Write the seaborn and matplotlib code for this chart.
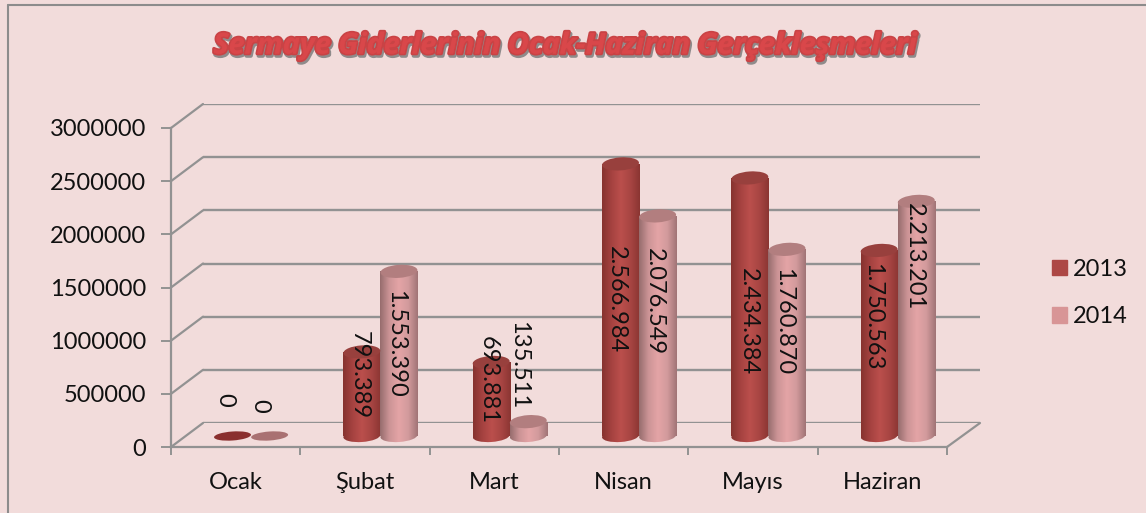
import numpy as np
import pandas as pd
import seaborn as sns
import matplotlib
matplotlib.use("Agg")
import matplotlib.pyplot as plt
import matplotlib.patheffects as pe
from matplotlib.colors import LinearSegmentedColormap
from matplotlib.lines import Line2D
from matplotlib.patches import ConnectionPatch, Ellipse, Patch
from matplotlib.transforms import IdentityTransform, offset_copy

months = ["Ocak", "Şubat", "Mart", "Nisan", "Mayıs", "Haziran"]
values_2013 = [0, 793389, 693881, 2566984, 2434384, 1750563]
values_2014 = [0, 1553390, 135511, 2076549, 1760870, 2213201]
labels_2013 = ["0", "793.389", "693.881", "2.566.984", "2.434.384", "1.750.563"]
labels_2014 = ["0", "1.553.390", "135.511", "2.076.549", "1.760.870", "2.213.201"]
years = ["2013", "2014"]
title = "Sermaye Giderlerinin Ocak-Haziran Gerçekleşmeleri"
yticks = [0, 500000, 1000000, 1500000, 2000000, 2500000, 3000000]

W, H = 1146, 513
BG = "#F2DCDB"
GRID = "#929292"
TXT = "#111111"
FS = 17
plt_font = ["Lato", "DejaVu Sans"]

sns.set_theme(style="white")
plt.rcParams["font.family"] = plt_font
fig = plt.figure(figsize=(W / 100, H / 100), dpi=100, facecolor=BG)


def add_axes(x0, x1, y_bottom, y_top, z):
    ax = fig.add_axes([x0 / W, 1 - y_bottom / H, (x1 - x0) / W, (y_bottom - y_top) / H])
    ax.set_facecolor("none")
    ax.set_zorder(z)
    ax.set_xlim(0, 6)
    ax.set_ylim(0, 3000000)
    return ax


back = add_axes(203, 980, 423, 104, 1)
front = add_axes(171, 947, 447, 128, 2)
bars = add_axes(186.4, 962.4, 436, 118, 3)

# back wall
sns.despine(ax=back, left=True, bottom=True)
back.set_xticks([])
back.set_yticks(yticks)
back.tick_params(left=False, labelleft=False)
back.grid(True, axis="y", color=GRID, lw=1.7)
back.set_axisbelow(True)
for s in back.spines.values():
    s.set_visible(False)
back.patch.set_visible(False)

# front frame
sns.despine(ax=front)
for s in ("left", "bottom"):
    front.spines[s].set_color(GRID)
    front.spines[s].set_linewidth(1.6)
front.set_xticks(range(7))
front.set_xticklabels([])
front.set_xticks(np.arange(6) + 0.5, labels=months, minor=True)
front.tick_params(axis="x", which="major", length=6, width=1.4, color=GRID, direction="out", bottom=True)
front.tick_params(axis="x", which="minor", length=0, pad=18, labelsize=FS, labelcolor=TXT)
front.set_yticks(yticks, labels=[str(v) for v in yticks])
front.tick_params(axis="y", length=7, width=1.4, color=GRID, direction="out", left=True,
                  labelsize=FS, labelcolor=TXT, pad=11)

for v in yticks:
    fig.add_artist(ConnectionPatch((0, v), (0, v), "data", "data", axesA=front, axesB=back,
                                   color=GRID, lw=1.6, zorder=1.5))
fig.add_artist(ConnectionPatch((6, 0), (6, 0), "data", "data", axesA=front, axesB=back,
                               color=GRID, lw=1.6, zorder=1.5))

# cylinders
df = pd.DataFrame({
    "month": months * 2,
    "year": [years[0]] * 6 + [years[1]] * 6,
    "value": values_2013 + values_2014,
})
sns.barplot(data=df, x="month", y="value", hue="year", order=months, hue_order=years,
            palette=["#AD4745", "#D89596"], width=0.574, gap=0, legend=False, ax=bars, native_scale=False)
bars.set_xlim(-0.5, 5.5)
bars.set_ylim(0, 3000000)
bars.set_xlabel("")
bars.set_ylabel("")
bars.axis("off")

styles = [
    dict(cols=["#86332F", "#A54240", "#BB4F4C", "#A84543", "#8A3532"], top="#98403D", flat="#8A2F2E"),
    dict(cols=["#966C6D", "#CC9496", "#E4A4A6", "#D29A9C", "#A07476"], top="#B27E7F", flat="#A97172"),
]
EW, TH = 37, 13
TILT = 4

fig.canvas.draw()
for container, style in zip(bars.containers, styles):
    cmap = LinearSegmentedColormap.from_list("cyl", style["cols"])
    grad = np.linspace(0, 1, 256)[None, :]
    for patch in container:
        x0, w, h = patch.get_x(), patch.get_width(), patch.get_height()
        xm = x0 + w / 2
        base = bars.transData.transform((xm, 0))
        top = bars.transData.transform((xm, h))
        if h == 0:
            patch.set_visible(False)
            bars.add_patch(Ellipse(base, EW, 9, angle=TILT, transform=IdentityTransform(),
                                   color=style["flat"], lw=0, zorder=5, clip_on=False))
            continue
        patch.set_alpha(0)
        zb = 3 + x0 * 0.01
        bottom = Ellipse(base, EW, TH - 1, angle=TILT, transform=IdentityTransform(), fc="none", lw=0, clip_on=False)
        bars.add_patch(bottom)
        im = bars.imshow(grad, extent=[x0, x0 + w, -200000, h], aspect="auto", cmap=cmap, zorder=zb)
        im.set_clip_box(fig.bbox)
        im.set_clip_path(bottom)
        im2 = bars.imshow(grad, extent=[x0, x0 + w, 0, h], aspect="auto", cmap=cmap, zorder=zb)
        im2.set_clip_path(patch)
        bars.add_patch(Ellipse(top, EW, TH, angle=TILT, transform=IdentityTransform(),
                               color=style["top"], lw=0, zorder=zb + 0.1, clip_on=False))
bars.set_xlim(-0.5, 5.5)
bars.set_ylim(0, 3000000)

# data labels: pixel offset from each cylinder's top (x, y up)
offs_2013 = [(-8, 36), (-3, -23), (-3, -18), (-4, -136), (-1, -144), (-7, -66)]
offs_2014 = [(-10, 30), (-3, -73), (-10, 57), (-3, -86), (-3, -72), (-2, -55)]
for container, labs, offs in zip(bars.containers, (labels_2013, labels_2014), (offs_2013, offs_2014)):
    for patch, lab, (dx, dy) in zip(container, labs, offs):
        xm = patch.get_x() + patch.get_width() / 2
        bars.text(xm, patch.get_height(), lab,
                  transform=offset_copy(bars.transData, fig=fig, x=dx, y=dy, units="dots"),
                  rotation=-90, ha="center", va="center", fontsize=FS, color=TXT, zorder=20, clip_on=False)

# legend
handles = [Patch(color="#AD4745", label=years[0]), Patch(color="#D89596", label=years[1])]
leg = fig.legend(handles=handles, loc="center left", bbox_to_anchor=(1052 / W, 1 - 293 / H), frameon=False,
                 fontsize=FS, handlelength=0.64, handleheight=0.64, handletextpad=0.25, labelspacing=1.13,
                 borderpad=0, borderaxespad=0, labelcolor=TXT)

# title
fig.text(565 / W, 1 - 46 / H, title, ha="center", va="center", fontsize=20.7, fontweight="bold", style="italic",
         family="Open Sans", color="#D9474A", zorder=10,
         path_effects=[pe.SimpleLineShadow(offset=(1.0, -1.6), shadow_color="#777777", alpha=0.8, linewidth=3.0),
                       pe.withStroke(linewidth=2.6, foreground="#C94345"),
                       pe.Normal()])

# outer frame
fig.add_artist(Line2D([7.5 / W, 7.5 / W], [0, 1 - 5 / H], color="#8C8C8C", lw=1.5))
fig.add_artist(Line2D([7.5 / W, 1], [1 - 5 / H, 1 - 5 / H], color="#8C8C8C", lw=1.5))

fig.savefig("out.png", dpi=100, facecolor=BG)
